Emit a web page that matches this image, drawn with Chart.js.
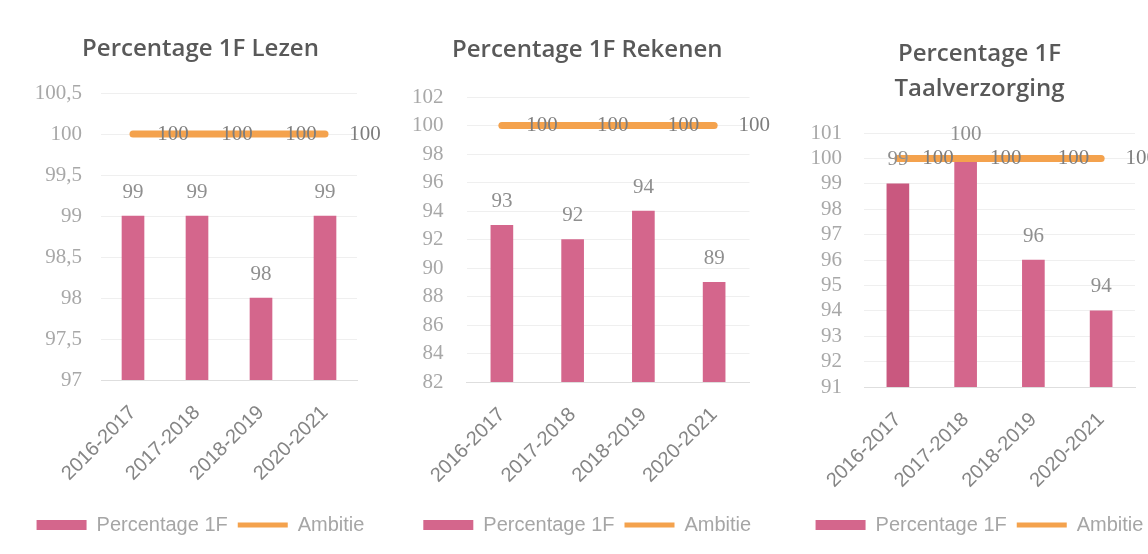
<!DOCTYPE html>
<html><head><meta charset="utf-8">
<script src="https://cdn.jsdelivr.net/npm/chart.js@4.4.1/dist/chart.umd.min.js"></script>
<style>
html,body{margin:0;padding:0;background:#fff;width:1148px;height:554px;overflow:hidden;position:relative}
.box{position:absolute;top:0;height:554px}
canvas{display:block}
</style></head><body>
<div class="box" style="left:0;width:400px"><canvas id="c1" width="400" height="554" style="width:400px;height:554px"></canvas></div>
<div class="box" style="left:390px;width:390px"><canvas id="c2" width="390" height="554" style="width:390px;height:554px"></canvas></div>
<div class="box" style="left:780px;width:396px"><canvas id="c3" width="396" height="554" style="width:396px;height:554px"></canvas></div>
<script>
// ---- data ----
const categories = ['2016-2017', '2017-2018', '2018-2019', '2020-2021'];
const seriesNames = ['Percentage 1F', 'Ambitie'];

const lezenTitle = 'Percentage 1F Lezen';
const lezenValues = [99, 99, 98, 99];
const lezenAmbitie = [100, 100, 100, 100];
const lezenTicks = [97, 97.5, 98, 98.5, 99, 99.5, 100, 100.5];

const rekenenTitle = 'Percentage 1F Rekenen';
const rekenenValues = [93, 92, 94, 89];
const rekenenAmbitie = [100, 100, 100, 100];
const rekenenTicks = [82, 84, 86, 88, 90, 92, 94, 96, 98, 100, 102];

const taalTitle = ['Percentage 1F', 'Taalverzorging'];
const taalValues = [99, 100, 96, 94];
const taalAmbitie = [100, 100, 100, 100];
const taalTicks = [91, 92, 93, 94, 95, 96, 97, 98, 99, 100, 101];

// ---- styles ----
const PINK = '#d4668c';
const ORANGE = '#f4a24d';
const LEGEND_TEXT = '#a6a6a6';
const fmt = v => String(v).replace('.', ',');

const valueLabels = {
  id: 'valueLabels',
  afterDatasetsDraw(chart) {
    const ctx = chart.ctx;
    ctx.save();
    ctx.font = '21px "Liberation Serif", serif';
    ctx.textAlign = 'center';
    ctx.textBaseline = 'middle';
    chart.data.datasets.forEach((ds, i) => {
      const meta = chart.getDatasetMeta(i);
      meta.data.forEach((el, j) => {
        const txt = fmt(ds.data[j]);
        if (ds.type === 'line') {
          ctx.fillStyle = '#7d7d7d';
          ctx.fillText(txt, el.x + 40, el.y);
        } else {
          ctx.fillStyle = '#8f8f8f';
          ctx.fillText(txt, el.x, el.y - 24);
        }
      });
    });
    ctx.restore();
  }
};

// shift title and legend horizontally (they are centred over the whole figure in the original)
const shiftBoxes = {
  id: 'shiftBoxes',
  afterLayout(chart, args, opts) {
    const dx = opts.dx || 0;
    [chart.legend, chart.titleBlock].forEach(b => {
      if (b) { b.left += dx; b.right += dx; }
    });
  }
};

function makeChart(id, cfg) {
  new Chart(document.getElementById(id), {
    data: {
      labels: categories,
      datasets: [
        { type: 'bar', label: seriesNames[0], data: cfg.values, backgroundColor: cfg.barColors || PINK,
          barThickness: 22, order: 1 },
        { type: 'line', label: seriesNames[1], data: cfg.ambitie, borderColor: ORANGE, backgroundColor: ORANGE,
          borderWidth: 7, pointRadius: 0, borderCapStyle: 'round', order: 0 }
      ]
    },
    options: {
      responsive: false,
      animation: false,
      layout: { padding: { left: 0, right: cfg.padRight, top: 0, bottom: 9 } },
      plugins: {
        tooltip: { enabled: false },
        shiftBoxes: { dx: cfg.dx },
        title: {
          display: true, text: cfg.title, color: '#595959',
          font: { family: '"Open Sans", sans-serif', size: 24, weight: '600', lineHeight: cfg.titleLH || 1.2 },
          padding: { top: cfg.titleTop, bottom: cfg.titleBottom }
        },
        legend: {
          position: 'bottom',
          labels: {
            usePointStyle: true, pointStyleWidth: 50, boxHeight: 10, padding: 10,
            color: LEGEND_TEXT, font: { family: '"Liberation Sans", sans-serif', size: 20 },
            generateLabels: (chart) => [
              { text: seriesNames[0], fillStyle: PINK, strokeStyle: PINK, lineWidth: 0, pointStyle: 'rect',
                fontColor: LEGEND_TEXT, datasetIndex: 0, hidden: false },
              { text: seriesNames[1], fillStyle: ORANGE, strokeStyle: ORANGE, lineWidth: 5, lineCap: 'butt', pointStyle: 'line',
                fontColor: LEGEND_TEXT, datasetIndex: 1, hidden: false }
            ]
          }
        }
      },
      scales: {
        x: {
          offset: true,
          grid: { display: false, drawTicks: false },
          border: { display: true, color: '#dedede' },
          ticks: { minRotation: 45, maxRotation: 45, padding: 21, color: '#858585', autoSkip: false,
            font: { family: '"Liberation Sans", sans-serif', size: 20 } },
          afterFit: s => { s.height = cfg.xHeight; }
        },
        y: {
          min: cfg.ticks[0], max: cfg.ticks[cfg.ticks.length - 1],
          grid: { color: '#efefef', drawTicks: false },
          border: { display: false },
          ticks: { padding: cfg.yPad, color: '#a8a8a8', autoSkip: false,
            font: { family: '"Liberation Serif", serif', size: 21 },
            callback: v => fmt(v) },
          afterBuildTicks: s => { s.ticks = cfg.ticks.map(v => ({ value: v })); },
          afterFit: s => { s.width = cfg.yWidth; }
        }
      }
    },
    plugins: [valueLabels, shiftBoxes]
  });
}

makeChart('c1', { title: lezenTitle, values: lezenValues, ambitie: lezenAmbitie, ticks: lezenTicks,
  titleTop: 34.6, titleBottom: 29.6, yWidth: 101, yPad: 19, xHeight: 125, padRight: 43, dx: 22 });
makeChart('c2', { title: rekenenTitle, values: rekenenValues, ambitie: rekenenAmbitie, ticks: rekenenTicks,
  titleTop: 35.6, titleBottom: 32.6, yWidth: 76.5, yPad: 23, xHeight: 123, padRight: 30.5, dx: 17.5 });
makeChart('c3', { title: taalTitle, values: taalValues, ambitie: taalAmbitie, ticks: taalTicks,
  titleLH: 35 / 24, titleTop: 36.5, titleBottom: 26.5, yWidth: 84, yPad: 22, xHeight: 118, padRight: 41, dx: 22,
  barColors: ['#c9587f', PINK, PINK, PINK] });
</script>
</body></html>
